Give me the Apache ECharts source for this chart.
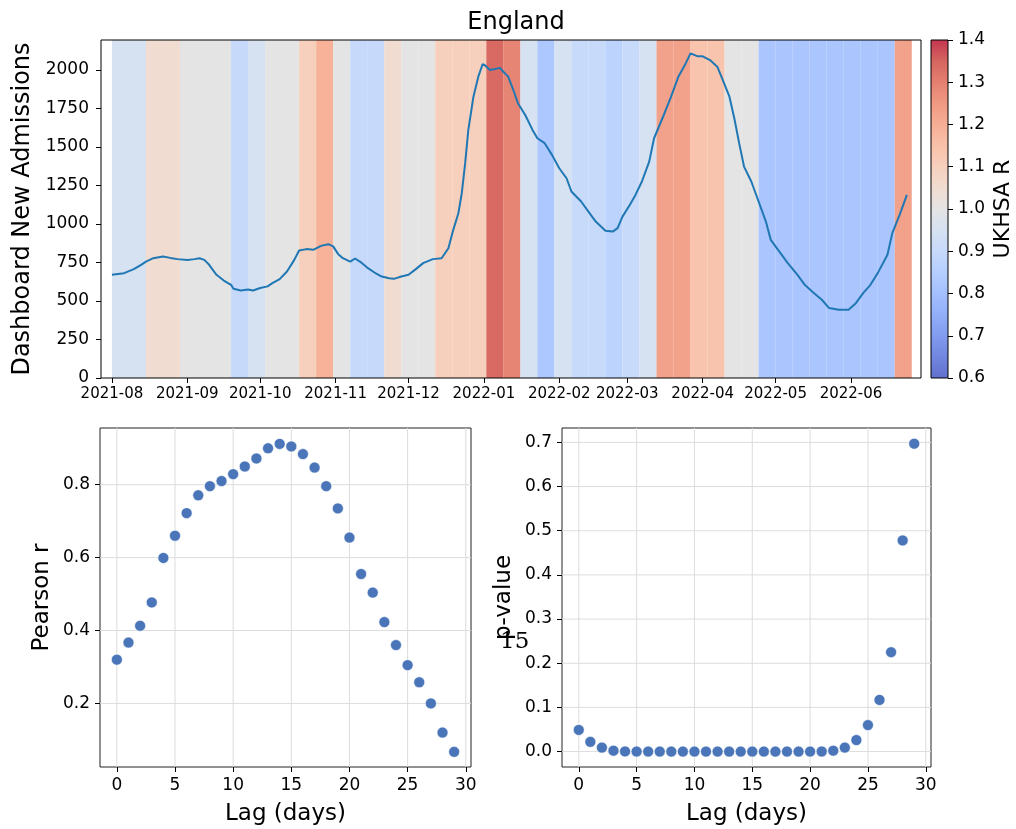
<!DOCTYPE html>
<html><head><meta charset="utf-8">
<script src="https://cdn.jsdelivr.net/npm/echarts@6/dist/echarts.min.js"></script>
<style>html,body{margin:0;padding:0;background:#fff}#c{width:1016px;height:829px}</style>
</head><body><div id="c"></div>
<script>
// ---------------- data ----------------
const startDate = '2021-08-01';
const monthTicks = ['2021-08','2021-09','2021-10','2021-11','2021-12','2022-01','2022-02','2022-03','2022-04','2022-05','2022-06'];
const admissionTicks = [0,250,500,750,1000,1250,1500,1750,2000];
// day offset from startDate, and 7-day dashboard admissions
const admissionDays = [0,5,9,12,14,17,21,24,27,31,34,36,38,40,43,46,49,50,53,56,58,61,64,66,69,72,75,77,80,83,86,89,91,93,95,98,100,102,105,108,111,114,116,119,122,125,128,132,135.6,138.4,140.4,142.5,143.9,145.3,146.6,148.7,150.7,152.5,153.5,155.5,157.6,159.6,161,163,165,167,170,173,175,178,181,184,187,189,193,196,199,203,206,208,210,213,215,218,221,223,227,230,233,236,238,241,243,246,249,251,254,256,258,260,263,266,269,271,275,278,282,285,288,292,295,299,303,306,309,312,315,319,321,324,327];
const admissions = [670,681,707,735,756,778,789,780,772,767,772,778,767,735,670,633,605,579,568,575,568,584,595,616,642,692,767,828,837,833,858,869,855,806,778,756,776,756,717,685,659,648,644,659,670,707,746,772,778,843,962,1070,1200,1395,1611,1827,1957,2039,2030,2000,2007,2014,1989,1957,1875,1784,1708,1611,1557,1525,1449,1362,1297,1211,1146,1081,1016,956,951,973,1048,1124,1178,1276,1405,1557,1708,1827,1957,2043,2108,2089,2089,2065,2022,1946,1827,1687,1525,1373,1276,1146,1016,897,811,746,670,605,562,508,454,443,443,486,551,605,681,800,941,1059,1189];
// weekly UKHSA R estimate (one value per week starting at startDate)
const weeklyR = [0.95,0.95,1.05,1.05,1.0,1.0,1.0,0.90,0.95,1.0,1.0,1.10,1.19,1.0,0.90,0.90,1.05,1.0,1.0,1.10,1.10,1.10,1.34,1.29,0.95,0.825,0.95,0.905,0.905,0.87,0.905,0.95,1.23,1.23,1.14,1.14,1.0,1.0,0.82,0.82,0.82,0.82,0.82,0.82,0.82,0.82,1.23];
const colorbarRange = [0.6, 1.4];
const colorbarTicks = [0.6,0.7,0.8,0.9,1.0,1.1,1.2,1.3,1.4];
const lags = [0,1,2,3,4,5,6,7,8,9,10,11,12,13,14,15,16,17,18,19,20,21,22,23,24,25,26,27,28,29];
const pearsonR = [0.320,0.367,0.413,0.477,0.599,0.660,0.722,0.771,0.796,0.810,0.829,0.850,0.872,0.900,0.912,0.905,0.884,0.847,0.796,0.735,0.655,0.555,0.504,0.423,0.360,0.305,0.258,0.200,0.120,0.067];
const pValues = [0.049,0.022,0.009,0.002,0.0004,0.0001,0.00003,0.00001,0.00001,0.00001,0.00001,0.00001,0.00001,0.00001,0.00001,0.00001,0.00001,0.00001,0.00001,0.00002,0.00005,0.0002,0.002,0.009,0.026,0.060,0.117,0.225,0.478,0.697];
const lagTicks = [0,5,10,15,20,25,30];
const pearsonTicks = [0.2,0.4,0.6,0.8];
const pTicks = [0,0.1,0.2,0.3,0.4,0.5,0.6,0.7];

// ---------------- chart ----------------
const DAY = 86400000;
const t0 = Date.parse(startDate + 'T00:00:00Z');
const monthMs = monthTicks.map(s => Date.parse(s + '-01T00:00:00Z'));
const FONT = 'DejaVu Sans';
const Y_MAX = 2195;
const LAG_RANGE = [-1.45, 30.45];
const R_RANGE = [0.0255, 0.9556];
const P_RANGE = [-0.0349, 0.7326];
const coolwarm = [[59,76,192],[77,104,215],[98,130,234],[119,154,247],[141,176,254],[163,194,255],[184,208,249],[204,217,238],[221,221,221],[236,211,197],[245,196,173],[247,177,148],[244,154,123],[236,127,99],[222,96,77],[203,62,56],[180,4,38]];
function cmap(r, alpha) {
  let t = (r - colorbarRange[0]) / (colorbarRange[1] - colorbarRange[0]);
  t = Math.max(0, Math.min(1, t));
  let pos = t * (coolwarm.length - 1);
  let i = Math.floor(pos); let f = pos - i;
  if (i >= coolwarm.length - 1) { i = coolwarm.length - 2; f = 1; }
  const a = coolwarm[i], b = coolwarm[i + 1];
  const c = a.map((v, k) => Math.round(v + (b[k] - v) * f));
  return 'rgba(' + c[0] + ',' + c[1] + ',' + c[2] + ',' + alpha + ')';
}
const ALPHA = 0.8;
const tickStyle = { show: true, inside: false, length: 5, lineStyle: { color: '#000', width: 1 } };
const lblStyle = { color: '#000', fontFamily: FONT };
const noLine = { show: false, onZero: false };
const GRID_COLOR = '#dcdcdc';

// grid lines drawn at tick values through the axes
function gridLines(xi, yi, xTicks, yTicks, xr, yr) {
  const data = xTicks.map(v => [0, v]).concat(yTicks.map(v => [1, v]));
  return { type: 'custom', xAxisIndex: xi, yAxisIndex: yi, z: 1, silent: true, data: data,
    encode: { x: [], y: [] },
    renderItem: (params, api) => {
      const kind = api.value(0), v = api.value(1);
      let p0, p1;
      if (kind === 0) { p0 = api.coord([v, yr[0]]); p1 = api.coord([v, yr[1]]); }
      else { p0 = api.coord([xr[0], v]); p1 = api.coord([xr[1], v]); }
      return { type: 'line', shape: { x1: p0[0], y1: p0[1], x2: p1[0], y2: p1[1] },
        style: { stroke: GRID_COLOR, lineWidth: 1 } };
    } };
}

const chart = echarts.init(document.getElementById('c'), null, { renderer: 'canvas' });
const option = {
  animation: false,
  backgroundColor: '#fff',
  textStyle: { fontFamily: FONT },
  title: { text: 'England', left: 511, top: 6, textAlign: 'center',
    textStyle: { fontSize: 24, fontWeight: 'normal', color: '#000', fontFamily: FONT } },
  grid: [
    { left: 101, top: 40, width: 820, height: 338, show: true, borderColor: '#000', borderWidth: 1, backgroundColor: 'transparent', z: 0 },
    { left: 931, top: 40, width: 17, height: 338, show: true, borderColor: '#000', borderWidth: 1, backgroundColor: 'transparent' },
    { left: 100, top: 428, width: 371, height: 339, show: true, borderColor: '#222', borderWidth: 1, backgroundColor: 'transparent' },
    { left: 562, top: 428, width: 369, height: 339, show: true, borderColor: '#222', borderWidth: 1, backgroundColor: 'transparent' }
  ],
  xAxis: [
    { type: 'value', gridIndex: 0, min: t0 - 4.5 * DAY, max: t0 + 332.8 * DAY,
      axisLine: noLine, splitLine: { show: false },
      axisTick: Object.assign({ customValues: monthMs }, tickStyle),
      axisLabel: Object.assign({ customValues: monthMs, fontSize: 15, margin: 9,
        formatter: v => { const i = monthMs.indexOf(v); return i >= 0 ? monthTicks[i] : ''; } }, lblStyle) },
    { type: 'value', gridIndex: 1, min: 0, max: 1, show: false },
    { type: 'value', gridIndex: 2, min: LAG_RANGE[0], max: LAG_RANGE[1],
      axisLine: noLine, splitLine: { show: false },
      axisTick: Object.assign({ customValues: lagTicks }, tickStyle),
      axisLabel: Object.assign({ customValues: lagTicks, fontSize: 17, margin: 10, formatter: v => String(v) }, lblStyle),
      name: 'Lag (days)', nameLocation: 'middle', nameGap: 36,
      nameTextStyle: { fontSize: 23, color: '#000', fontFamily: FONT } },
    { type: 'value', gridIndex: 3, min: LAG_RANGE[0], max: LAG_RANGE[1],
      axisLine: noLine, splitLine: { show: false },
      axisTick: Object.assign({ customValues: lagTicks }, tickStyle),
      axisLabel: Object.assign({ customValues: lagTicks, fontSize: 17, margin: 10, formatter: v => String(v) }, lblStyle),
      name: 'Lag (days)', nameLocation: 'middle', nameGap: 36,
      nameTextStyle: { fontSize: 23, color: '#000', fontFamily: FONT } }
  ],
  yAxis: [
    { type: 'value', gridIndex: 0, min: 0, max: Y_MAX,
      axisLine: noLine, splitLine: { show: false },
      axisTick: Object.assign({ customValues: admissionTicks }, tickStyle),
      axisLabel: Object.assign({ customValues: admissionTicks, fontSize: 17, margin: 12, formatter: v => String(v) }, lblStyle),
      name: 'Dashboard New Admissions', nameLocation: 'middle', nameGap: 58,
      nameTextStyle: { fontSize: 24, color: '#000', fontFamily: FONT } },
    { type: 'value', gridIndex: 1, position: 'right', min: colorbarRange[0], max: colorbarRange[1],
      axisLine: noLine, splitLine: { show: false },
      axisTick: Object.assign({ customValues: colorbarTicks }, tickStyle),
      axisLabel: Object.assign({ customValues: colorbarTicks, fontSize: 17, margin: 10, formatter: v => v.toFixed(1) }, lblStyle),
      name: 'UKHSA R', nameLocation: 'middle', nameGap: 44,
      nameTextStyle: { fontSize: 22, color: '#000', fontFamily: FONT } },
    { type: 'value', gridIndex: 2, min: R_RANGE[0], max: R_RANGE[1],
      axisLine: noLine, splitLine: { show: false },
      axisTick: Object.assign({ customValues: pearsonTicks }, tickStyle),
      axisLabel: Object.assign({ customValues: pearsonTicks, fontSize: 17, margin: 10, formatter: v => v.toFixed(1) }, lblStyle),
      name: 'Pearson r', nameLocation: 'middle', nameGap: 46,
      nameTextStyle: { fontSize: 23, color: '#000', fontFamily: FONT } },
    { type: 'value', gridIndex: 3, min: P_RANGE[0], max: P_RANGE[1],
      axisLine: noLine, splitLine: { show: false },
      axisTick: Object.assign({ customValues: pTicks }, tickStyle),
      axisLabel: Object.assign({ customValues: pTicks, fontSize: 17, margin: 10, formatter: v => v.toFixed(1) }, lblStyle),
      name: 'p-value', nameLocation: 'middle', nameGap: 46,
      nameTextStyle: { fontSize: 23, color: '#000', fontFamily: FONT } }
  ],
  graphic: [
    { type: 'text', left: 500, top: 631, z: 100,
      style: { text: '15', fontSize: 23, fontFamily: 'DejaVu Serif', fill: '#000' } }
  ],
  series: [
    { type: 'custom', xAxisIndex: 0, yAxisIndex: 0, z: -1, silent: true,
      data: weeklyR.map((r, i) => [t0 + 7 * i * DAY, t0 + 7 * (i + 1) * DAY, r]),
      encode: { x: [0, 1] },
      renderItem: (params, api) => {
        const p0 = api.coord([api.value(0), Y_MAX]);
        const p1 = api.coord([api.value(1), 0]);
        return { type: 'rect', shape: { x: p0[0], y: p0[1], width: p1[0] - p0[0], height: p1[1] - p0[1] },
          style: { fill: cmap(api.value(2), ALPHA) } };
      } },
    { type: 'line', xAxisIndex: 0, yAxisIndex: 0, z: 3, showSymbol: false, symbol: 'none',
      data: admissionDays.map((d, i) => [t0 + d * DAY, admissions[i]]),
      lineStyle: { color: '#1f77b4', width: 2 } },
    { type: 'custom', xAxisIndex: 1, yAxisIndex: 1, z: -1, silent: true,
      data: [[0, colorbarRange[0], 1, colorbarRange[1]]],
      encode: { x: [0, 2], y: [1, 3] },
      renderItem: (params, api) => {
        const p0 = api.coord([api.value(0), api.value(3)]);
        const p1 = api.coord([api.value(2), api.value(1)]);
        const stops = [];
        for (let k = 0; k <= 32; k++) {
          const r = colorbarRange[1] - (colorbarRange[1] - colorbarRange[0]) * k / 32;
          stops.push({ offset: k / 32, color: cmap(r, ALPHA) });
        }
        return { type: 'rect', shape: { x: p0[0], y: p0[1], width: p1[0] - p0[0], height: p1[1] - p0[1] },
          style: { fill: new echarts.graphic.LinearGradient(0, 0, 0, 1, stops) } };
      } },
    gridLines(2, 2, lagTicks, pearsonTicks, LAG_RANGE, R_RANGE),
    gridLines(3, 3, lagTicks, pTicks, LAG_RANGE, P_RANGE),
    { type: 'scatter', xAxisIndex: 2, yAxisIndex: 2, symbolSize: 11, z: 3,
      data: lags.map((l, i) => [l, pearsonR[i]]),
      itemStyle: { color: '#4a76b9', borderColor: '#fff', borderWidth: 0.6, opacity: 1 } },
    { type: 'scatter', xAxisIndex: 3, yAxisIndex: 3, symbolSize: 11, z: 3,
      data: lags.map((l, i) => [l, pValues[i]]),
      itemStyle: { color: '#4a76b9', borderColor: '#fff', borderWidth: 0.6, opacity: 1 } }
  ]
};
chart.setOption(option);
</script>
</body></html>
